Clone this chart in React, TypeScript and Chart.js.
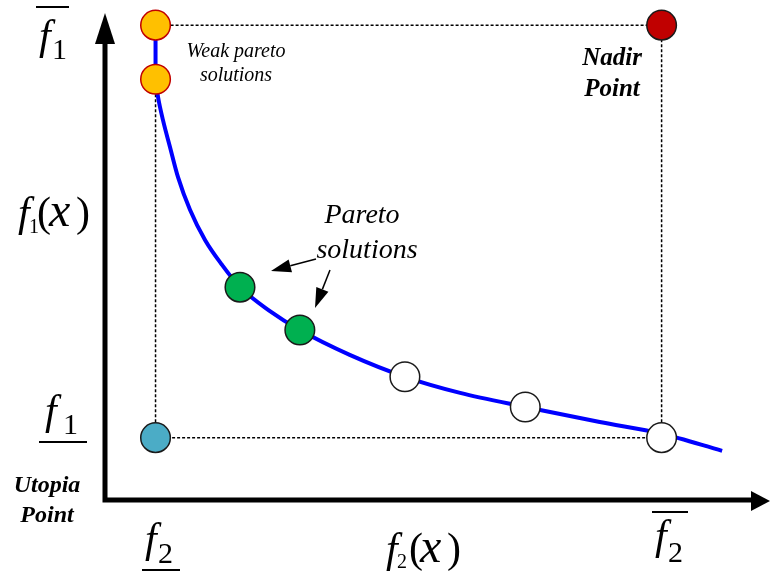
import React, { useEffect, useRef } from "react";
import { Chart, registerables } from "chart.js";

Chart.register(...registerables);

// Objective-space extremes (f2 on x, f1 on y), arbitrary units 0..100
const F2_MIN = 7.6;
const F2_MAX = 83.7;
const F1_MIN = 12.8;
const F1_MAX = 97.5;

// Marked solutions
const weakX = [7.6, 7.6];
const weakY = [97.5, 86.4];
const nadirX = [83.7];
const nadirY = [97.5];
const utopiaX = [7.6];
const utopiaY = [12.8];
const paretoX = [20.3, 29.3];
const paretoY = [43.7, 34.9];
const otherX = [45.1, 63.2, 83.7];
const otherY = [25.3, 19.1, 12.8];

// Pareto front curve samples
const frontX = [7.6, 7.97, 8.72, 9.77, 10.98, 12.78, 15.04, 17.59, 20.3, 24.8, 29.3, 36.8, 45.1, 53.4, 63.2, 74.4, 83.7, 92.8];
const frontY = [86.4, 82.8, 78.0, 72.5, 66.3, 59.6, 53.4, 48.3, 43.7, 38.8, 34.9, 29.8, 25.3, 22.0, 19.1, 16.0, 13.6, 10.1];

const zip = (xs: number[], ys: number[]) => xs.map((x, i) => ({ x, y: ys[i] }));

const SERIF = '"Liberation Serif", "Times New Roman", serif';

const pointStyle = (bg: string, border: string) => ({
  showLine: false,
  clip: false as const,
  pointRadius: 14.8,
  pointBorderWidth: 1.5,
  pointBackgroundColor: bg,
  pointBorderColor: border,
  backgroundColor: bg,
  borderColor: border,
});

const diagramPlugin = {
  id: "diagram",
  beforeDatasetsDraw(chart: any) {
    const ctx = chart.ctx as CanvasRenderingContext2D;
    const xs = chart.scales.x;
    const ys = chart.scales.y;
    const x0 = xs.getPixelForValue(0);
    const y0 = ys.getPixelForValue(0);
    const yTip = ys.getPixelForValue(100);
    const xTip = xs.getPixelForValue(100);
    ctx.save();
    ctx.strokeStyle = "#000";
    ctx.fillStyle = "#000";
    ctx.lineWidth = 5;
    ctx.beginPath();
    ctx.moveTo(x0, y0 + 2.5);
    ctx.lineTo(x0, yTip + 28);
    ctx.moveTo(x0 - 2.5, y0);
    ctx.lineTo(xTip - 17, y0);
    ctx.stroke();
    // arrow heads
    ctx.beginPath();
    ctx.moveTo(x0, yTip);
    ctx.lineTo(x0 - 10, yTip + 31);
    ctx.lineTo(x0 + 10, yTip + 31);
    ctx.closePath();
    ctx.fill();
    ctx.beginPath();
    ctx.moveTo(xTip, y0 + 1);
    ctx.lineTo(xTip - 19, y0 - 9);
    ctx.lineTo(xTip - 19, y0 + 11);
    ctx.closePath();
    ctx.fill();
    ctx.restore();
  },
  afterDraw(chart: any) {
    const ctx = chart.ctx as CanvasRenderingContext2D;
    ctx.save();
    ctx.fillStyle = "#000";
    ctx.strokeStyle = "#000";
    ctx.textBaseline = "alphabetic";

    const txt = (s: string, x: number, y: number, font: string, align: CanvasTextAlign = "left") => {
      ctx.font = font;
      ctx.textAlign = align;
      ctx.fillText(s, x, y);
    };
    const hline = (x1: number, x2: number, y: number) => {
      ctx.lineWidth = 2;
      ctx.beginPath();
      ctx.moveTo(x1, y);
      ctx.lineTo(x2, y);
      ctx.stroke();
    };
    const big = `italic 42px ${SERIF}`;
    const xFont = `italic 48px ${SERIF}`;
    const paren = `42px ${SERIF}`;
    const sub30 = `30px ${SERIF}`;
    const sub20 = `20px ${SERIF}`;

    // f1 upper bound
    txt("f", 39, 49, big);
    txt("1", 52, 59, sub30);
    hline(36, 69, 7);
    // f1(x)
    txt("f", 18, 226, big);
    txt("1", 29, 233, sub20);
    txt("(", 37, 226, paren);
    txt("x", 49, 226, xFont);
    txt(")", 76, 226, paren);
    // f1 lower bound
    txt("f", 45, 424, big);
    txt("1", 63, 434, sub30);
    hline(39, 87, 442);
    // f2 lower bound
    txt("f", 145, 552, big);
    txt("2", 158, 563, sub30);
    hline(142, 180, 570);
    // f2(x)
    txt("f", 386, 562, big);
    txt("2", 397, 568, sub20);
    txt("(", 409, 562, paren);
    txt("x", 420, 562, xFont);
    txt(")", 447, 562, paren);
    // f2 upper bound
    txt("f", 655, 549, big);
    txt("2", 668, 562, sub30);
    hline(652, 688, 512);

    // annotations
    txt("Weak pareto", 236, 57, `italic 20px ${SERIF}`, "center");
    txt("solutions", 236, 81, `italic 20px ${SERIF}`, "center");
    txt("Nadir", 612, 65, `italic bold 25px ${SERIF}`, "center");
    txt("Point", 612, 96, `italic bold 25px ${SERIF}`, "center");
    txt("Utopia", 47, 492, `italic bold 24px ${SERIF}`, "center");
    txt("Point", 47, 522, `italic bold 24px ${SERIF}`, "center");
    txt("Pareto", 362, 223, `italic 28px ${SERIF}`, "center");
    txt("solutions", 367, 258, `italic 28px ${SERIF}`, "center");

    // arrows
    const arrow = (x1: number, y1: number, x2: number, y2: number) => {
      const a = Math.atan2(y2 - y1, x2 - x1);
      const L = 20, W = 6.5;
      const bx = x2 - L * Math.cos(a), by = y2 - L * Math.sin(a);
      ctx.lineWidth = 1.5;
      ctx.beginPath();
      ctx.moveTo(x1, y1);
      ctx.lineTo(bx, by);
      ctx.stroke();
      ctx.beginPath();
      ctx.moveTo(x2, y2);
      ctx.lineTo(bx + W * Math.sin(a), by - W * Math.cos(a));
      ctx.lineTo(bx - W * Math.sin(a), by + W * Math.cos(a));
      ctx.closePath();
      ctx.fill();
    };
    arrow(316, 259, 271, 271);
    arrow(330, 270, 315, 308);
    ctx.restore();
  },
};

export default function App() {
  const ref = useRef<HTMLCanvasElement>(null);
  useEffect(() => {
    if (!ref.current) return;
    const chart = new Chart(ref.current, {
      type: "scatter",
      data: {
        datasets: [
          { data: zip(weakX, weakY), ...pointStyle("#FFC000", "#C00000") },
          { data: zip(nadirX, nadirY), ...pointStyle("#C00000", "#1a1a1a") },
          { data: zip(utopiaX, utopiaY), ...pointStyle("#4BACC6", "#1a1a1a") },
          { data: zip(paretoX, paretoY), ...pointStyle("#00B050", "#1a1a1a") },
          { data: zip(otherX, otherY), ...pointStyle("#FFFFFF", "#1a1a1a") },
          {
            data: zip(frontX, frontY),
            showLine: true,
            clip: false,
            borderColor: "#0000FF",
            borderWidth: 4,
            cubicInterpolationMode: "monotone",
            pointRadius: 0,
          },
          {
            data: zip([F2_MIN, F2_MIN], [F1_MAX, weakY[1]]),
            showLine: true,
            clip: false,
            borderColor: "#0000FF",
            borderWidth: 4,
            tension: 0,
            pointRadius: 0,
          },
          {
            data: zip(
              [F2_MIN, F2_MIN, F2_MAX, F2_MAX, F2_MIN],
              [weakY[1], F1_MIN, F1_MIN, F1_MAX, F1_MAX]
            ),
            showLine: true,
            clip: false,
            borderColor: "#000000",
            borderWidth: 1.5,
            borderDash: [3, 2],
            tension: 0,
            pointRadius: 0,
          },
        ],
      },
      options: {
        responsive: false,
        animation: false,
        events: [],
        layout: { autoPadding: false, padding: { left: 105, right: 0, top: 13, bottom: 73 } },
        plugins: { legend: { display: false }, tooltip: { enabled: false } },
        scales: {
          x: { type: "linear", min: 0, max: 100, display: false },
          y: { type: "linear", min: 0, max: 100, display: false },
        },
      },
      plugins: [diagramPlugin],
    });
    return () => chart.destroy();
  }, []);
  return (
    <div style={{ position: "absolute", left: 0, top: 0, width: 770, height: 573, background: "#fff" }}>
      <canvas ref={ref} width={770} height={573} style={{ display: "block" }} />
    </div>
  );
}
